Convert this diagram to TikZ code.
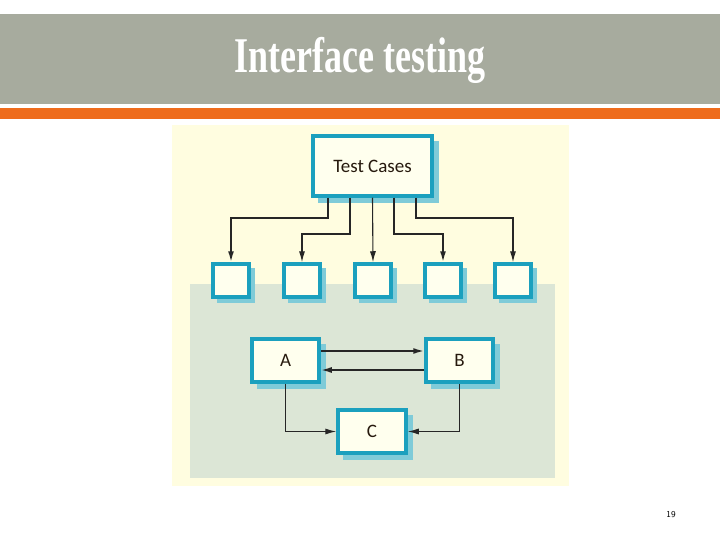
\documentclass[tikz,border=0pt]{standalone}
\usepackage{fontspec}
\setmainfont{Carlito}
\newfontfamily\titlefont{Liberation Serif}
\usetikzlibrary{arrows.meta}
\definecolor{hdr}{RGB}{167,171,158}
\definecolor{org}{RGB}{238,108,28}
\definecolor{pan}{RGB}{255,253,224}
\definecolor{grn}{RGB}{220,230,214}
\definecolor{teal}{RGB}{27,160,190}
\definecolor{shd}{RGB}{127,203,216}
\definecolor{bx}{RGB}{255,255,238}
\tikzset{
  box/.style={draw=teal, line width=3.5pt, fill=bx, minimum width=#1, inner sep=0pt, text=black!80!brown, font=\fontsize{19}{19}\selectfont},
  sh/.style={fill=shd, draw=none},
  conn/.style={draw=black!85, line width=1.8pt, -{Latex[length=11pt,width=6pt]}},
  thin/.style={draw=black!85, line width=1.1pt, -{Latex[length=11pt,width=6pt]}}
}
\begin{document}
\begin{tikzpicture}[x=1pt,y=-1pt]
\useasboundingbox (0,0) rectangle (720,540);
\fill[white] (0,0) rectangle (720,540);
\fill[hdr] (0,14) rectangle (720,104);
\fill[org] (0,108) rectangle (720,119);
\node[text=white, font=\titlefont\bfseries\fontsize{50}{50}\selectfont, xscale=0.72] (title) at (360,60) {Interface testing};
\fill[pan] (172,125) rectangle (569,486);
\fill[grn] (190,284) rectangle (555,478);
% shadows
\fill[sh] (318,141) rectangle (439,203);
\foreach \x in {231,302,373,443,513}{\fill[sh] (\x-19+5,263+5) rectangle (\x+19+5,298+5);}
\fill[sh] (257,344) rectangle (326,389);
\fill[sh] (431,344) rectangle (500,389);
\fill[sh] (343,415) rectangle (413,460);
% boxes
\node[box=119pt, minimum height=60pt] (tc) at (372.5,166) {Test Cases};
\node[box=36pt, minimum height=33pt] (b1) at (231,280.5) {};
\node[box=36pt, minimum height=33pt] (b2) at (302,280.5) {};
\node[box=36pt, minimum height=33pt] (b3) at (373,280.5) {};
\node[box=36pt, minimum height=33pt] (b4) at (443,280.5) {};
\node[box=36pt, minimum height=33pt] (b5) at (513,280.5) {};
\node[box=67pt, minimum height=43pt] (A) at (285.5,360.5) {A};
\node[box=67pt, minimum height=43pt] (B) at (459.5,360.5) {B};
\node[box=68pt, minimum height=43pt] (C) at (372,431.5) {C};
% connectors
\draw[conn] (tc.south -| 328,0) |- (231,218) -- (b1.north);
\draw[thin] (tc.south -| 350,0) |- (302,234) -- (b2.north);
\draw[thin] (tc.south) -- (b3.north);
\draw[conn] (tc.south -| 394,0) |- (443,234) -- (b4.north);
\draw[thin] (tc.south -| 416,0) |- (513,218) -- (b5.north);
\draw[conn] (A.east |- 0,351) -- (B.west |- 0,351);
\draw[conn] (B.west |- 0,370) -- (A.east |- 0,370);
\draw[thin] (A.south) |- (C.west);
\draw[thin] (B.south) |- (C.east);
\node[font=\fontsize{9}{9}\selectfont\sffamily] (pg) at (671,515) {19};
\end{tikzpicture}
\end{document}
